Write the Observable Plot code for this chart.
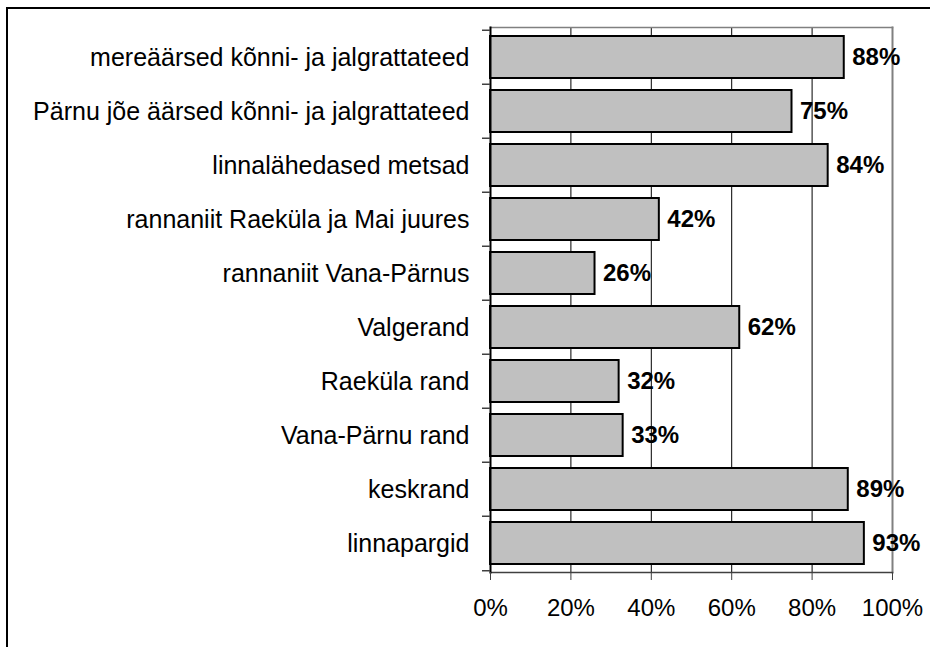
<!DOCTYPE html>
<html>
<head>
<meta charset="utf-8">
<script src="https://cdn.jsdelivr.net/npm/d3@7"></script>
<script src="https://cdn.jsdelivr.net/npm/@observablehq/plot@0.6"></script>
<style>
  html, body { margin: 0; padding: 0; background: #fff; }
  #wrap { position: relative; width: 938px; height: 647px; overflow: hidden; }
  #frame { position: absolute; left: 6px; top: 7px; width: 922px; height: 660px;
           border-top: 2px solid #000; border-left: 2px solid #000; pointer-events: none; }
  svg { font-family: Arial, "Liberation Sans", sans-serif; }
</style>
</head>
<body>
<div id="wrap"><div id="frame"></div></div>
<script>
const categories = [
  "mereäärsed kõnni- ja jalgrattateed",
  "Pärnu jõe äärsed kõnni- ja jalgrattateed",
  "linnalähedased metsad",
  "rannaniit Raeküla ja Mai juures",
  "rannaniit Vana-Pärnus",
  "Valgerand",
  "Raeküla rand",
  "Vana-Pärnu rand",
  "keskrand",
  "linnapargid"
];
const values = [88, 75, 84, 42, 26, 62, 32, 33, 89, 93];
const xTicks = [0, 20, 40, 60, 80, 100];
const gridTicks = [20, 40, 60, 80];

const data = categories.map((c, i) => ({category: c, value: values[i]}));

const W = 938, H = 647, mT = 27, mB = 75, mL = 490, mR = 46;
const step = (H - mT - mB) / categories.length;

const chart = Plot.plot({
  width: W, height: H,
  marginLeft: mL, marginRight: mR, marginTop: mT, marginBottom: mB,
  style: {fontFamily: "Arial, 'Liberation Sans', sans-serif", background: "transparent", overflow: "visible"},
  x: {domain: [0, 100], label: null},
  y: {domain: categories, paddingInner: 0.23, paddingOuter: 0.115, label: null},
  marks: [
    Plot.ruleX(gridTicks, {stroke: "#000", strokeWidth: 1}),
    Plot.frame({anchor: "top", stroke: "#808080", strokeWidth: 1.5}),
    Plot.frame({anchor: "right", stroke: "#808080", strokeWidth: 2}),
    Plot.barX(data, {x: "value", y: "category", fill: "#c0c0c0", stroke: "#000", strokeWidth: 2}),
    Plot.frame({anchor: "bottom", stroke: "#404040", strokeWidth: 1.5}),
    Plot.frame({anchor: "left", stroke: "#000", strokeWidth: 2}),
    Plot.axisY({ticks: categories, tickSize: 8, text: null, label: null, dy: -step / 2, stroke: "#404040", strokeWidth: 1.5}),
    Plot.axisY({ticks: categories.slice(-1), tickSize: 8, text: null, label: null, dy: step / 2, stroke: "#404040", strokeWidth: 1.5}),
    Plot.axisY({ticks: categories, tickSize: 0, tickPadding: 21, fontSize: 25, fill: "#000", label: null}),
    Plot.axisX({ticks: xTicks, tickSize: 8, tickPadding: 18, tickFormat: d => d + "%", fontSize: 24, fill: "#000", stroke: "#404040", label: null}),
    Plot.text(data, {x: "value", y: "category", text: d => d.value + "%", textAnchor: "start", dx: 8, fontWeight: "bold", fontSize: 24, fill: "#000"})
  ]
});
document.getElementById("wrap").prepend(chart);
</script>
</body>
</html>
